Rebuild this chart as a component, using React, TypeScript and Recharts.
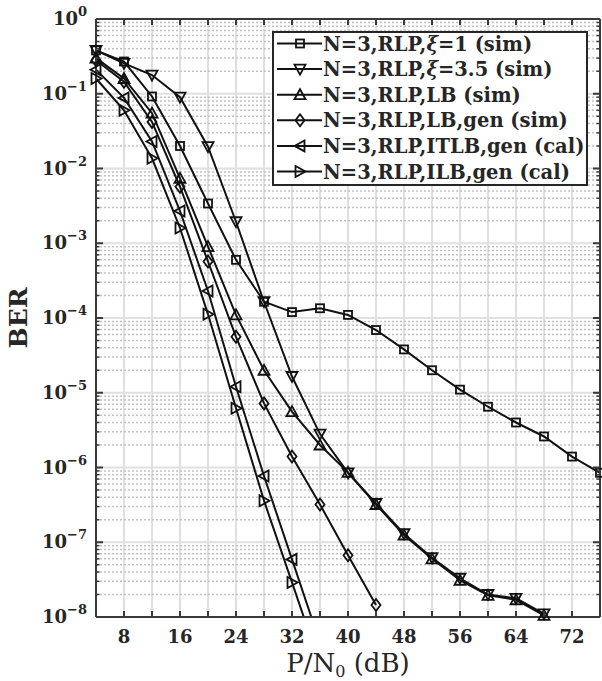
import React from 'react';
import { LineChart, Line, XAxis, YAxis, CartesianGrid, ReferenceLine, Legend, Label } from 'recharts';

// ---------- data ----------
const SNR_DB = [4, 8, 12, 16, 20, 24, 28, 32, 36, 40, 44, 48, 52, 56, 60, 64, 68, 72, 76];

const BER_XI1 = [0.38, 0.27, 0.092, 0.02, 0.0034, 6e-4, 1.65e-4, 1.2e-4, 1.35e-4, 1.1e-4, 6.9e-5, 3.8e-5, 2e-5, 1.1e-5, 6.5e-6, 4e-6, 2.6e-6, 1.4e-6, 8.5e-7];
const BER_XI35 = [0.38, 0.255, 0.178, 0.09, 0.0196, 0.00194, 1.65e-4, 1.65e-5, 2.8e-6, 8.5e-7, 3.3e-7, 1.3e-7, 6.2e-8, 3.3e-8, 2.0e-8, 1.78e-8, 1.1e-8];
const BER_LB = [0.3, 0.16, 0.055, 0.0074, 9e-4, 1.1e-4, 2e-5, 5.6e-6, 2e-6, 8.6e-7, 3.2e-7, 1.25e-7, 6e-8, 3.1e-8, 1.95e-8, 1.7e-8, 1.05e-8];
const BER_LB_GEN = [0.28, 0.145, 0.042, 0.0057, 5.7e-4, 5.6e-5, 7.2e-6, 1.4e-6, 3.2e-7, 6.7e-8, 1.45e-8];
const BER_ITLB_GEN = [0.21, 0.088, 0.023, 0.0027, 2.3e-4, 1.2e-5, 7.7e-7, 5.9e-8, 4.5e-9];
const BER_ILB_GEN = [0.16, 0.06, 0.0137, 0.0016, 1.12e-4, 6.2e-6, 3.6e-7, 2.9e-8, 2.3e-9];

const SERIES_LABELS = [
  'N=3,RLP,ξ=1 (sim)',
  'N=3,RLP,ξ=3.5 (sim)',
  'N=3,RLP,LB (sim)',
  'N=3,RLP,LB,gen (sim)',
  'N=3,RLP,ITLB,gen (cal)',
  'N=3,RLP,ILB,gen (cal)',
];
const SERIES_MARKERS = ['square', 'down', 'up', 'diamond', 'left', 'right'];
const SERIES_VALUES = [BER_XI1, BER_XI35, BER_LB, BER_LB_GEN, BER_ITLB_GEN, BER_ILB_GEN];

const X_TICKS = [4, 8, 12, 16, 20, 24, 28, 32, 36, 40, 44, 48, 52, 56, 60, 64, 68, 72, 76];
const X_LABELED = [8, 16, 24, 32, 40, 48, 56, 64, 72];
const Y_MAJOR = [1e-8, 1e-7, 1e-6, 1e-5, 1e-4, 1e-3, 1e-2, 1e-1, 1];
const MANTISSAS = [2, 3, 4, 5, 6, 7, 8, 9];
const Y_MINOR = Y_MAJOR.slice(0, -1).flatMap((d) => MANTISSAS.map((m) => m * d));
const Y_TICKS = [...Y_MAJOR, ...Y_MINOR].sort((a, b) => a - b);

const Y_DOMAIN = [1e-8, 1];
const X_DOMAIN = [4, 76];

// ---------- styles ----------
const AX = '#3a3a3a';
const TXT = '#262626';
const LINE = '#111111';
const FONT = '"DejaVu Serif", serif';

const isMajor = (v: number) => {
  const e = Math.log10(v);
  return Math.abs(e - Math.round(e)) < 1e-6;
};

function MarkerShape({ shape, cx, cy }: { shape: string; cx: number; cy: number }) {
  const common = { fill: 'none', stroke: LINE, strokeWidth: 1.8 };
  switch (shape) {
    case 'square':
      return <rect x={cx - 4} y={cy - 4} width={8} height={8} {...common} />;
    case 'down':
      return <polygon points={`${cx - 5.5},${cy - 4.5} ${cx + 5.5},${cy - 4.5} ${cx},${cy + 5.5}`} {...common} />;
    case 'up':
      return <polygon points={`${cx - 5.5},${cy + 4.5} ${cx + 5.5},${cy + 4.5} ${cx},${cy - 5.5}`} {...common} />;
    case 'diamond':
      return <polygon points={`${cx},${cy - 6} ${cx + 4.5},${cy} ${cx},${cy + 6} ${cx - 4.5},${cy}`} {...common} />;
    case 'left':
      return <polygon points={`${cx + 4.5},${cy - 5.5} ${cx + 4.5},${cy + 5.5} ${cx - 5.5},${cy}`} {...common} />;
    case 'right':
      return <polygon points={`${cx - 4.5},${cy - 5.5} ${cx - 4.5},${cy + 5.5} ${cx + 5.5},${cy}`} {...common} />;
    default:
      return null;
  }
}

const makeDot = (shape: string) => (props: any) => {
  const { cx, cy, key, index } = props;
  if (cx == null || cy == null || Number.isNaN(cx) || Number.isNaN(cy)) return <g key={key ?? index} />;
  return <MarkerShape key={key ?? `${shape}-${index}`} shape={shape} cx={cx} cy={cy} />;
};

function LabelText({ text, x, y, size }: { text: string; x: number; y: number; size: number }) {
  const parts = text.split('ξ');
  return (
    <text x={x} y={y} fontFamily={FONT} fontWeight="bold" fontSize={size} fill={TXT}>
      {parts.map((p, i) => (
        <React.Fragment key={i}>
          {i > 0 && <tspan fontStyle="italic">ξ</tspan>}
          <tspan>{p}</tspan>
        </React.Fragment>
      ))}
    </text>
  );
}

// ---------- ticks ----------
const LeftYTick = (props: any) => {
  const { x, y, payload } = props;
  const v = payload.value;
  if (!isMajor(v)) {
    return <line x1={x} y1={y} x2={x + 3.5} y2={y} stroke={AX} strokeWidth={1.5} />;
  }
  const exp = Math.round(Math.log10(v));
  return (
    <g>
      <line x1={x} y1={y} x2={x + 7} y2={y} stroke={AX} strokeWidth={2} />
      <text x={x - 9} y={y + 6} textAnchor="end" fontFamily={FONT} fontWeight="bold" fontSize={18} fill={TXT}>
        <tspan>10</tspan>
        <tspan dy={-9} fontSize={13}>{exp === 0 ? '0' : `−${Math.abs(exp)}`}</tspan>
      </text>
    </g>
  );
};

const RightYTick = (props: any) => {
  const { x, y, payload } = props;
  const len = isMajor(payload.value) ? 7 : 3.5;
  return <line x1={x} y1={y} x2={x - len} y2={y} stroke={AX} strokeWidth={isMajor(payload.value) ? 2 : 1.5} />;
};

const BottomXTick = (props: any) => {
  const { x, y, payload } = props;
  const v = payload.value;
  const edge = v === X_DOMAIN[0] || v === X_DOMAIN[1];
  return (
    <g>
      {!edge && <line x1={x} y1={y} x2={x} y2={y - 6} stroke={AX} strokeWidth={2} />}
      {X_LABELED.includes(v) && (
        <text x={x} y={y + 26} textAnchor="middle" fontFamily={FONT} fontWeight="bold" fontSize={18} fill={TXT}>
          {v}
        </text>
      )}
    </g>
  );
};

const TopXTick = (props: any) => {
  const { x, y, payload } = props;
  const v = payload.value;
  if (v === X_DOMAIN[0] || v === X_DOMAIN[1]) return <g />;
  return <line x1={x} y1={y} x2={x} y2={y + 6} stroke={AX} strokeWidth={2} />;
};

const XLabel = (props: any) => {
  const vb = props.viewBox;
  const cx = vb.x + vb.width / 2;
  return (
    <text x={cx} y={vb.y + 55} textAnchor="middle" fontFamily={FONT} fontSize={26} fill={TXT}>
      <tspan>P/N</tspan>
      <tspan dy={5} fontSize={16}>0</tspan>
      <tspan dy={-5}> (dB)</tspan>
    </text>
  );
};

const YLabel = (props: any) => {
  const vb = props.viewBox;
  const bx = vb.x + 27;
  const cy = vb.y + vb.height / 2;
  return (
    <text x={bx} y={cy} transform={`rotate(-90, ${bx}, ${cy})`} textAnchor="middle" fontFamily={FONT} fontWeight="bold" fontSize={25} fill={TXT}>
      BER
    </text>
  );
};

const LegendBox = () => (
  <svg width={316} height={155} style={{ display: 'block' }}>
    <rect x={1} y={1} width={314} height={153} fill="#ffffff" stroke="#262626" strokeWidth={2} />
    {SERIES_LABELS.map((label, i) => {
      const cy = 12.5 + i * 25.6;
      return (
        <g key={label}>
          <line x1={5} x2={50} y1={cy} y2={cy} stroke={LINE} strokeWidth={2} />
          <MarkerShape shape={SERIES_MARKERS[i]} cx={28} cy={cy} />
          <LabelText text={label} x={51} y={cy + 7} size={19.5} />
        </g>
      );
    })}
  </svg>
);

export default function App() {
  const lineData = SERIES_VALUES.map((vals) => vals.map((y, i) => ({ x: SNR_DB[i], y })));
  const markerData = lineData.map((pts) => pts.filter((p) => p.y >= Y_DOMAIN[0]));

  return (
    <div style={{ position: 'absolute', left: 0, top: 0 }}>
      <LineChart width={602} height={681} margin={{ top: 0, right: 0, bottom: 0, left: 0 }}>
        <XAxis
          dataKey="x"
          type="number"
          domain={X_DOMAIN}
          ticks={X_TICKS}
          interval={0}
          height={64}
          tickSize={0}
          tickMargin={0}
          tickLine={false}
          axisLine={{ stroke: AX, strokeWidth: 2 }}
          tick={BottomXTick}
        >
          <Label content={XLabel} />
        </XAxis>
        <XAxis
          xAxisId="top"
          orientation="top"
          dataKey="x"
          type="number"
          domain={X_DOMAIN}
          allowDataOverflow
          ticks={X_TICKS}
          interval={0}
          height={19}
          tickSize={0}
          tickMargin={0}
          tickLine={false}
          axisLine={{ stroke: AX, strokeWidth: 2 }}
          tick={TopXTick}
        />
        <YAxis
          scale="log"
          type="number"
          domain={Y_DOMAIN}
          allowDataOverflow
          ticks={Y_TICKS}
          interval={0}
          width={96}
          tickSize={0}
          tickMargin={0}
          tickLine={false}
          axisLine={{ stroke: AX, strokeWidth: 2 }}
          tick={LeftYTick}
        >
          <Label content={YLabel} />
        </YAxis>
        <YAxis
          yAxisId="right"
          orientation="right"
          scale="log"
          type="number"
          domain={Y_DOMAIN}
          allowDataOverflow
          ticks={Y_TICKS}
          interval={0}
          width={2}
          tickSize={0}
          tickMargin={0}
          tickLine={false}
          axisLine={{ stroke: AX, strokeWidth: 2 }}
          tick={RightYTick}
        />
        <YAxis yAxisId="m" hide scale="log" type="number" domain={Y_DOMAIN} />

        <CartesianGrid horizontal={false} stroke="#e0e0e0" strokeWidth={2} />
        {Y_MINOR.map((v) => (
          <ReferenceLine key={`mn-${v}`} y={v} stroke="#c2c2c2" strokeWidth={1.5} strokeDasharray="2 2" />
        ))}
        {Y_MAJOR.slice(1, -1).map((v) => (
          <ReferenceLine key={`mj-${v}`} y={v} stroke="#e0e0e0" strokeWidth={2} />
        ))}

        {lineData.map((pts, i) => (
          <Line
            key={`line-${i}`}
            data={pts}
            dataKey="y"
            name={SERIES_LABELS[i]}
            stroke={LINE}
            strokeWidth={2}
            dot={false}
            activeDot={false}
            isAnimationActive={false}
          />
        ))}
        {markerData.map((pts, i) => (
          <Line
            key={`mk-${i}`}
            yAxisId="m"
            data={pts}
            dataKey="y"
            stroke="none"
            legendType="none"
            dot={makeDot(SERIES_MARKERS[i])}
            activeDot={false}
            isAnimationActive={false}
          />
        ))}
        <Legend
          layout="vertical"
          align="center"
          verticalAlign="middle"
          content={LegendBox}
          wrapperStyle={{ left: 272, top: 31, width: 316, height: 155 }}
        />
      </LineChart>
    </div>
  );
}
